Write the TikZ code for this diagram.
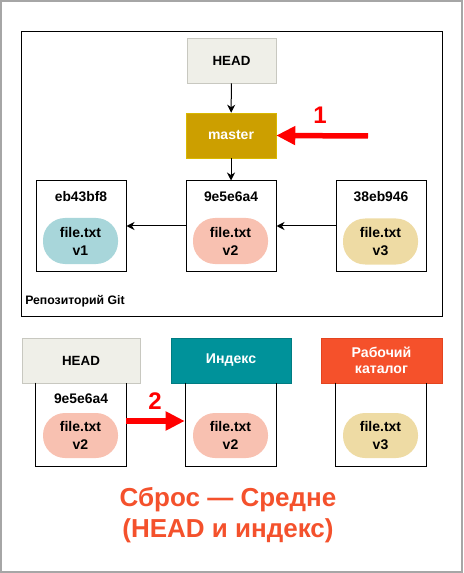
\documentclass[tikz,border=0pt]{standalone}
\usepackage{fontspec}
\setmainfont{Liberation Sans}
\usetikzlibrary{arrows.meta,calc}
\definecolor{headfill}{HTML}{EFEFE8}
\definecolor{headdraw}{HTML}{C8C8C0}
\definecolor{masterfill}{HTML}{CC9F00}
\definecolor{masterdraw}{HTML}{D9B800}
\definecolor{idxfill}{HTML}{00929A}
\definecolor{idxdraw}{HTML}{007C82}
\definecolor{wdfill}{HTML}{F5512B}
\definecolor{wddraw}{HTML}{E4441F}
\definecolor{vone}{HTML}{A8D6DA}
\definecolor{vtwo}{HTML}{F8C1B1}
\definecolor{vthree}{HTML}{EEDBA4}
\definecolor{arrred}{HTML}{FF0000}
\definecolor{titlecol}{HTML}{F4512C}
\begin{document}
\begin{tikzpicture}[x=0.75pt,y=-0.75pt,
  every node/.style={font=\bfseries, inner sep=0pt},
  labelbox/.style={minimum width=89*0.75pt, minimum height=45*0.75pt, font=\bfseries\fontsize{10}{12}\selectfont},
  commit/.style={draw=black, line width=0.75pt, minimum width=90*0.75pt, minimum height=90*0.75pt},
  blob/.style={rounded corners=22*0.75pt, minimum width=75*0.75pt, minimum height=46*0.75pt, align=center, font=\bfseries\fontsize{10.5}{13.5}\selectfont},
  hash/.style={font=\bfseries\fontsize{10.4}{12}\selectfont},
  link/.style={-{Stealth[length=8*0.75pt,width=8*0.75pt,inset=2.5*0.75pt]}, line width=0.75pt, black},
  redarrow/.style={-{Triangle[length=19*0.75pt,width=18*0.75pt]}, line width=5.5*0.75pt, arrred},
  rednum/.style={text=arrred, font=\bfseries\fontsize{18}{20}\selectfont}
]
\useasboundingbox (0,0) rectangle (463,573);
\draw[color={rgb,255:red,166;green,166;blue,166}, line width=1.5pt] (1,1) rectangle (462,572);

% repository frame
\node[draw=black, line width=0.75pt, minimum width=421*0.75pt, minimum height=284*0.75pt] (repo) at (231.5,174) {};
\node[anchor=west, font=\bfseries\fontsize{9.2}{11}\selectfont] (repolbl) at (25,301) {Репозиторий Git};

\node[labelbox, fill=headfill, draw=headdraw] (head) at (231.5,60.5) {HEAD};
\node[labelbox, minimum width=90*0.75pt, fill=masterfill, draw=masterdraw, text=white, font=\bfseries\fontsize{10.5}{12}\selectfont] (master) at (231,135.5) {master};

\node[commit] (c1) at (81,226) {};
\node[commit] (c2) at (231,226) {};
\node[commit] (c3) at (381,226) {};
\node[hash] (h1) at (81,197) {eb43bf8};
\node[hash] (h2) at (231,197) {9e5e6a4};
\node[hash] (h3) at (381,197) {38eb946};
\node[blob, fill=vone] (b1) at (80.5,241) {file.txt\\v1};
\node[blob, fill=vtwo] (b2) at (230.5,241) {file.txt\\v2};
\node[blob, fill=vthree] (b3) at (380.5,241.5) {file.txt\\v3};

\draw[link] (head) -- (master);
\draw[link] (master) -- (c2);
\draw[link] (c2) -- (c1);
\draw[link] (c3) -- (c2);

\coordinate (r1start) at (368,136);
\draw[redarrow] (r1start) -- (master.east);
\node[rednum] (n1) at (320,115) {1};

% bottom section
\node[labelbox, minimum width=118*0.75pt, fill=headfill, draw=headdraw] (bhead) at (81,360.5) {HEAD};
\node[labelbox, minimum width=120*0.75pt, fill=idxfill, draw=idxdraw, text=white, font=\bfseries\fontsize{10.6}{12}\selectfont] (bidx) at (231,360.5) {Индекс};
\node[labelbox, minimum width=121*0.75pt, fill=wdfill, draw=wddraw, text=white, align=center, font=\bfseries\fontsize{10.6}{12}\selectfont] (bwd) at (381.5,360.5) {Рабочий\\каталог};

\node[minimum width=90*0.75pt, minimum height=83*0.75pt] (lh) at (81,424.5) {};
\node[minimum width=90*0.75pt, minimum height=83*0.75pt] (li) at (231,424.5) {};
\node[minimum width=90*0.75pt, minimum height=83*0.75pt] (lw) at (381,424.5) {};
\foreach \b in {lh,li,lw}{
  \draw[line width=0.75pt] (\b.north west) -- (\b.south west) -- (\b.south east) -- (\b.north east);
}
\node[hash] (bh1) at (81,399) {9e5e6a4};
\node[blob, fill=vtwo, minimum height=45*0.75pt] (bb1) at (80.5,435.5) {file.txt\\v2};
\node[blob, fill=vtwo, minimum height=45*0.75pt] (bb2) at (230.5,435.5) {file.txt\\v2};
\node[blob, fill=vthree, minimum height=45*0.75pt] (bb3) at (380.5,435.5) {file.txt\\v3};

\draw[redarrow] ([yshift=3.5*0.75pt]lh.east) -- ([yshift=3.5*0.75pt,xshift=-1*0.75pt]li.west);
\node[rednum] (n2) at (155,401) {2};

\node[text=titlecol, align=center, font=\bfseries\fontsize{19.5}{23.5}\selectfont] (title) at (228,515) {Сброс — Средне\\ (HEAD и индекс)};
\end{tikzpicture}
\end{document}
